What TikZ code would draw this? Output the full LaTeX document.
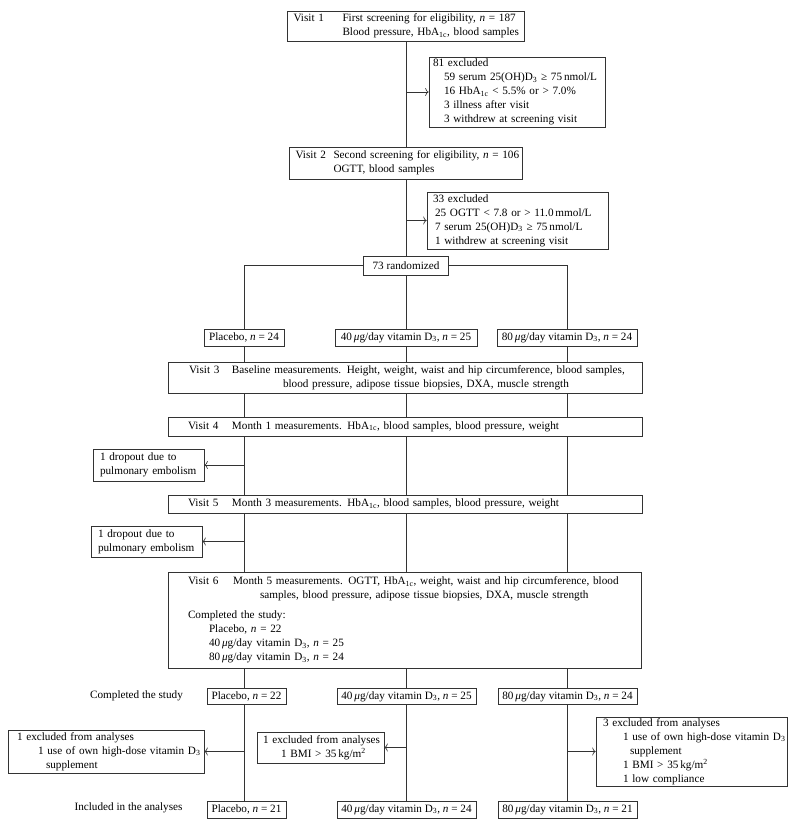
\documentclass[tikz,border=0pt]{standalone}
\usepackage{fontspec}
\setmainfont{Liberation Serif}
\usepackage{tikz}
\usetikzlibrary{calc}
\usetikzlibrary{positioning}
\usetikzlibrary{arrows.meta}

\begin{document}
\begin{tikzpicture}[x=1pt, y=-1pt, font=\fontsize{11.2}{14}\selectfont,
    >={To[length=3.5pt, width=8pt]},
    box/.style={draw=black!80, line width=0.6pt, rectangle, align=left, inner ysep=0pt},
    cbox/.style={draw=black!80, line width=0.6pt, rectangle, align=center, inner sep=0pt},
    link/.style={draw=black!80, line width=0.6pt}]
			\useasboundingbox (0,0) rectangle (796,827);

			% screening
			\node[box, text width=225pt, inner xsep=6pt, minimum height=30pt] (v1) at (406,26)
				{\mbox{\makebox[49pt][l]{Visit 1}First screening for eligibility, \textit{n}\,\,=\,\,187}\\
				\mbox{\hspace*{49pt}Blood pressure, HbA\textsubscript{1c}, blood samples}};
			\node[box, text width=168pt, inner xsep=4pt, minimum height=70pt] (x1) at (517,92)
				{81 excluded\\
				\mbox{\hspace*{11pt}59 serum 25(OH)D\textsubscript{3} ≥ 75\,nmol/L}\\
				\mbox{\hspace*{11pt}16 HbA\textsubscript{1c} < 5.5\% or > 7.0\%}\\
				\mbox{\hspace*{11pt}3 illness after visit}\\
				\mbox{\hspace*{11pt}3 withdrew at screening visit}};
			\node[box, text width=221pt, inner xsep=6pt, minimum height=32pt] (v2) at (406,163)
				{\mbox{\makebox[38pt][l]{Visit 2}Second screening for eligibility, \textit{n}\,\,=\,\,106}\\
				\mbox{\hspace*{38pt}OGTT, blood samples}};
			\node[box, text width=169pt, inner xsep=6pt, minimum height=57pt] (x2) at (517.5,220.5)
				{33 excluded\\
				\mbox{\hspace*{2pt}25 OGTT < 7.8 or > 11.0\,mmol/L}\\
				\mbox{\hspace*{2pt}7 serum 25(OH)D\textsubscript{3} ≥ 75\,nmol/L}\\
				\mbox{\hspace*{2pt}1 withdrew at screening visit}};
			\node[cbox, minimum width=85pt, minimum height=19pt] (r) at (406,265.5) {73 randomized};

			% arms
			\node[cbox, minimum width=80pt, minimum height=17pt] (a1) at (244,337.5) {Placebo, \textit{n} = 24};
			\node[cbox, minimum width=142pt, minimum height=17pt] (a2) at (406,337.5) {40\,\textit{μ}g/day vitamin D\textsubscript{3}, \textit{n} = 25};
			\node[cbox, minimum width=140pt, minimum height=17pt] (a3) at (567,337.5) {80\,\textit{μ}g/day vitamin D\textsubscript{3}, \textit{n} = 24};

			% visits
			\node[box, text width=432pt, inner xsep=21pt, minimum height=31pt] (v3) at (405,377.5)
				{\mbox{\makebox[43pt][l]{Visit 3}Baseline measurements. Height, weight, waist and hip circumference, blood samples,}\\
				\mbox{\hspace*{94pt}blood pressure, adipose tissue biopsies, DXA, muscle strength}};
			\node[box, text width=434pt, inner xsep=20pt, minimum height=19pt] (v4) at (405,426.5)
				{\mbox{\makebox[44pt][l]{Visit 4}Month 1 measurements. HbA\textsubscript{1c}, blood samples, blood pressure, weight}};
			\node[box, text width=97pt, inner xsep=7pt, minimum height=32pt] (d1) at (148.5,465)
				{\mbox{1 dropout due to}\\\mbox{pulmonary embolism}};
			\node[box, text width=434pt, inner xsep=20pt, minimum height=18pt] (v5) at (405,504)
				{\mbox{\makebox[44pt][l]{Visit 5}Month 3 measurements. HbA\textsubscript{1c}, blood samples, blood pressure, weight}};
			\node[box, text width=97pt, inner xsep=7pt, minimum height=31pt] (d2) at (146.5,541.5)
				{\mbox{1 dropout due to}\\\mbox{pulmonary embolism}};
			\node[box, text width=433pt, inner xsep=20pt, minimum height=96pt] (v6) at (404.5,620)
				{\mbox{\makebox[45pt][l]{Visit 6}Month 5 measurements. OGTT, HbA\textsubscript{1c}, weight, waist and hip circumference, blood}\\
				\mbox{\hspace*{72pt}samples, blood pressure, adipose tissue biopsies, DXA, muscle strength}\\[6pt]
				\mbox{Completed the study:}\\
				\mbox{\hspace*{21pt}Placebo, \textit{n} = 22}\\
				\mbox{\hspace*{21pt}40\,\textit{μ}g/day vitamin D\textsubscript{3}, \textit{n} = 25}\\
				\mbox{\hspace*{21pt}80\,\textit{μ}g/day vitamin D\textsubscript{3}, \textit{n} = 24}};

			% completed
			\node (lc) at (136.5,696) {Completed the study};
			\node[cbox, minimum width=79pt, minimum height=16pt] (c1) at (246.5,696.5) {Placebo, \textit{n} = 22};
			\node[cbox, minimum width=139pt, minimum height=16pt] (c2) at (406.5,696.5) {40\,\textit{μ}g/day vitamin D\textsubscript{3}, \textit{n} = 25};
			\node[cbox, minimum width=139pt, minimum height=16pt] (c3) at (567.5,696.5) {80\,\textit{μ}g/day vitamin D\textsubscript{3}, \textit{n} = 24};

			% excluded from analyses
			\node[box, text width=178pt, inner xsep=9pt, minimum height=43pt] (e1) at (106,751.5)
				{\mbox{1 excluded from analyses}\\
				\mbox{\hspace*{21pt}1 use of own high-dose vitamin D\textsubscript{3}}\\
				\mbox{\hspace*{29pt}supplement}};
			\node[box, text width=115pt, inner xsep=6pt, minimum height=31pt] (e2) at (320.5,747.5)
				{\mbox{1 excluded from analyses}\\
				\mbox{\hspace*{18pt}1 BMI > 35\,kg/m\textsuperscript{2}}};
			\node[box, text width=177pt, inner xsep=7pt, minimum height=69pt] (e3) at (691.5,751.5)
				{\mbox{3 excluded from analyses}\\
				\mbox{\hspace*{20pt}1 use of own high-dose vitamin D\textsubscript{3}}\\
				\mbox{\hspace*{27pt}supplement}\\
				\mbox{\hspace*{20pt}1 BMI > 35\,kg/m\textsuperscript{2}}\\
				\mbox{\hspace*{20pt}1 low compliance}};

			% included
			\node (li) at (128.5,808) {Included in the analyses};
			\node[cbox, minimum width=79pt, minimum height=17pt] (i1) at (246.5,809.5) {Placebo, \textit{n} = 21};
			\node[cbox, minimum width=139pt, minimum height=17pt] (i2) at (406.5,809.5) {40\,\textit{μ}g/day vitamin D\textsubscript{3}, \textit{n} = 24};
			\node[cbox, minimum width=139pt, minimum height=17pt] (i3) at (567.5,809.5) {80\,\textit{μ}g/day vitamin D\textsubscript{3}, \textit{n} = 21};

			\path[link] (v1) -- (v2);
			\path[link, ->] (x1.west -| v1) -- (x1.west);
			\path[link] (v2) -- (r);
			\path[link, ->] (x2.west -| v2) -- (x2.west);

			\path[link] (r.west) -| (a1);
			\path[link] (r) -- (a2);
			\path[link] (r.east) -| (a3);

			\path[link] (a1) -- (v3.north -| a1);
			\path[link] (a2) -- (v3.north -| a2);
			\path[link] (a3) -- (v3.north -| a3);

			\path[link] (v3.south -| a1) -- (v4.north -| a1);
			\path[link] (v3.south -| a2) -- (v4.north -| a2);
			\path[link] (v3.south -| a3) -- (v4.north -| a3);

			\path[link] (v4.south -| a1) -- (v5.north -| a1);
			\path[link] (v4.south -| a2) -- (v5.north -| a2);
			\path[link] (v4.south -| a3) -- (v5.north -| a3);
			\path[link, ->] (d1.east -| a1) -- (d1.east);

			\path[link] (v5.south -| a1) -- (v6.north -| a1);
			\path[link] (v5.south -| a2) -- (v6.north -| a2);
			\path[link] (v5.south -| a3) -- (v6.north -| a3);
			\path[link, ->] (d2.east -| a1) -- (d2.east);

			\path[link] (v6.south -| a1) -- (c1.north -| a1);
			\path[link] (v6.south -| a2) -- (c2.north -| a2);
			\path[link] (v6.south -| a3) -- (c3.north -| a3);

			\path[link] (c1.south -| a1) -- (i1.north -| a1);
			\path[link] (c2.south -| a2) -- (i2.north -| a2);
			\path[link] (c3.south -| a3) -- (i3.north -| a3);
			\path[link, ->] (e1.east -| a1) -- (e1.east);
			\path[link, ->] (e2.east -| a2) -- (e2.east);
			\path[link, ->] (e3.west -| a3) -- (e3.west);
\end{tikzpicture}
\end{document}
